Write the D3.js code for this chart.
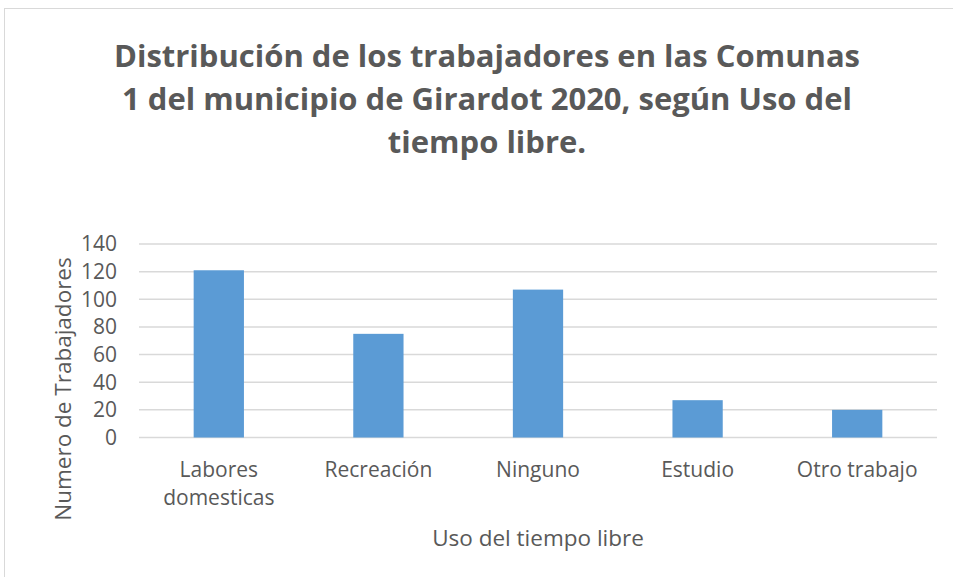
<!DOCTYPE html>
<html>
<head>
<meta charset="utf-8">
<script src="https://cdn.jsdelivr.net/npm/d3@7"></script>
<style>
  body { margin: 0; background: #fff; }
  text { font-family: "Open Sans", "Liberation Sans", sans-serif; fill: #595959; }
</style>
</head>
<body>
<div id="chart"></div>
<script>
var categories = ["Labores domesticas", "Recreación", "Ninguno", "Estudio", "Otro trabajo"]
var values = [121, 75, 107, 27, 20]
var yTicks = [0, 20, 40, 60, 80, 100, 120, 140]
var titleLines = ["Distribución de los trabajadores en las Comunas",
                  "1 del municipio de Girardot 2020, según Uso del",
                  "tiempo libre."]

var width = 953,
    height = 577
var margin = {left: 139, right: 16, top: 244, bottom: 140}

var svg = d3.select("#chart")
  .append("svg")
    .attr("width", width)
    .attr("height", height)

// chart frame
svg.append("rect")
  .attr("x", 4.5).attr("y", 8.5)
  .attr("width", 1000).attr("height", 700)
  .attr("fill", "#fff")
  .attr("stroke", "#d9d9d9")

var x = d3.scaleBand()
  .domain(categories)
  .range([margin.left, width - margin.right])
  .paddingInner(0.685)
  .paddingOuter(0.3425)

var y = d3.scaleLinear()
  .domain([0, 140])
  .range([height - margin.bottom + 0.5, margin.top])

// grid
svg.append("g")
  .selectAll("line")
  .data(yTicks)
  .enter()
  .append("line")
    .attr("x1", margin.left)
    .attr("x2", width - margin.right)
    .attr("y1", function(d) { return y(d) })
    .attr("y2", function(d) { return y(d) })
    .attr("stroke", "#d9d9d9")
    .style("stroke-width", "1.5px")

// y tick labels
svg.append("g")
  .selectAll("text")
  .data(yTicks)
  .enter()
  .append("text")
    .attr("x", 117)
    .attr("y", function(d) { return y(d) })
    .attr("dy", "0.35em")
    .attr("text-anchor", "end")
    .style("font-size", "21px")
    .text(function(d) { return d })

// bars
svg.append("g")
  .selectAll("rect")
  .data(values)
  .enter()
  .append("rect")
    .attr("x", function(d, i) { return x(categories[i]) })
    .attr("width", x.bandwidth())
    .attr("y", function(d) { return y(d) })
    .attr("height", function(d) { return y(0) - y(d) })
    .attr("fill", "#5b9bd5")

// category labels (first one wraps like excel)
var catLines = [["Labores", "domesticas"], ["Recreación"], ["Ninguno"], ["Estudio"], ["Otro trabajo"]]
var cat = svg.append("g")
  .selectAll("text")
  .data(categories)
  .enter()
  .append("text")
    .attr("text-anchor", "middle")
    .style("font-size", "21px")
    .attr("transform", function(d) { return "translate(" + (x(d) + x.bandwidth() / 2) + ",477)" })
cat.selectAll("tspan")
  .data(function(d, i) { return catLines[i] })
  .enter()
  .append("tspan")
    .attr("x", 0)
    .attr("y", function(d, j) { return j * 28 })
    .text(function(d) { return d })

// axis titles
svg.append("text")
  .attr("x", (margin.left + width - margin.right) / 2)
  .attr("y", 546)
  .attr("text-anchor", "middle")
  .style("font-size", "22.5px")
  .text("Uso del tiempo libre")

svg.append("text")
  .attr("transform", "translate(71,389) rotate(-90)")
  .attr("text-anchor", "middle")
  .style("font-size", "22.5px")
  .text("Numero de Trabajadores")

// title
svg.append("g")
  .selectAll("text")
  .data(titleLines)
  .enter()
  .append("text")
    .attr("x", 487)
    .attr("y", function(d, i) { return 67 + i * 43 })
    .attr("text-anchor", "middle")
    .style("font-size", "31px")
    .style("font-weight", "bold")
    .text(function(d) { return d })
</script>
</body>
</html>
